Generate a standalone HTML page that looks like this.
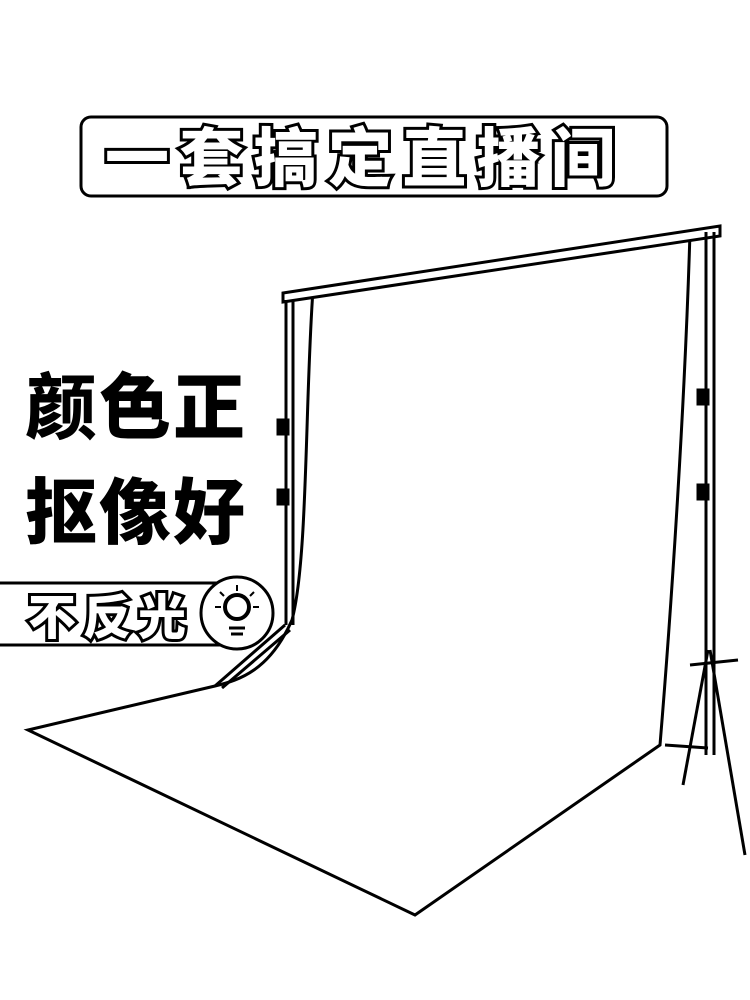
<!DOCTYPE html>
<html><head><meta charset="utf-8"><style>
body{margin:0;background:#fff;}
svg{display:block}
.ol{font-family:"Liberation Sans","Noto Sans CJK SC",sans-serif;font-weight:900;fill:#fff;stroke:#000;stroke-width:6;paint-order:stroke;}
.bk{font-family:"Liberation Sans","Noto Sans CJK SC",sans-serif;font-weight:900;fill:#000;}
</style></head><body>
<svg width="750" height="1000" viewBox="0 0 750 1000">
<rect width="750" height="1000" fill="#fff"/>
<g>
<rect x="81" y="117" width="586" height="79" rx="10" fill="#fff" stroke="#000" stroke-width="3"/>
<text class="ol" x="105" y="181" font-size="64" textLength="510" lengthAdjust="spacing">一套搞定直播间</text>
</g>
<g fill="none" stroke="#000" stroke-width="3">
<path d="M313,290 C305,400 308,560 292,620 C270,670 240,680 215,686 L28,730 L415,915 L660,745 C672,600 685,400 690,232" fill="#fff"/>
<path d="M283,293 L720,226 L720,236 L283,302 Z" fill="#fff"/>
<line x1="286" y1="300" x2="286" y2="625"/><line x1="293" y1="300" x2="293" y2="625"/>
<line x1="706" y1="232" x2="706" y2="755"/><line x1="714" y1="232" x2="714" y2="755"/>
<line x1="710" y1="650" x2="745" y2="855"/><line x1="708" y1="650" x2="683" y2="785"/>
<line x1="690" y1="665" x2="738" y2="660"/><line x1="665" y1="745" x2="708" y2="748"/>
<line x1="285" y1="625" x2="215" y2="686"/><line x1="290" y1="630" x2="222" y2="688"/>
<rect x="278" y="420" width="10" height="14" fill="#000"/><rect x="278" y="490" width="10" height="14" fill="#000"/>
<rect x="698" y="390" width="10" height="14" fill="#000"/><rect x="698" y="485" width="10" height="14" fill="#000"/>
</g>
<text class="bk" x="25" y="433" font-size="72" textLength="220" lengthAdjust="spacing">颜色正</text>
<text class="bk" x="25" y="538" font-size="72" textLength="220" lengthAdjust="spacing">抠像好</text>
<g>
<rect x="0" y="583" width="225" height="62" fill="#fff"/>
<line x1="0" y1="583" x2="225" y2="583" stroke="#000" stroke-width="3"/>
<line x1="0" y1="645" x2="225" y2="645" stroke="#000" stroke-width="3"/>
<text class="ol" x="28" y="634" font-size="48" textLength="158" lengthAdjust="spacing">不反光</text>
<circle cx="237" cy="613" r="36" fill="#fff" stroke="#000" stroke-width="3"/>
<circle cx="237" cy="607" r="12" fill="none" stroke="#000" stroke-width="4"/>
<line x1="229" y1="628" x2="245" y2="628" stroke="#000" stroke-width="3"/>
<line x1="231" y1="634" x2="243" y2="634" stroke="#000" stroke-width="3"/>
<line x1="237" y1="585" x2="237" y2="591" stroke="#000" stroke-width="2"/>
<line x1="220" y1="592" x2="224" y2="596" stroke="#000" stroke-width="2"/>
<line x1="254" y1="592" x2="250" y2="596" stroke="#000" stroke-width="2"/>
<line x1="215" y1="607" x2="221" y2="607" stroke="#000" stroke-width="2"/>
<line x1="253" y1="607" x2="259" y2="607" stroke="#000" stroke-width="2"/>
</g>
</svg>
</body></html>
